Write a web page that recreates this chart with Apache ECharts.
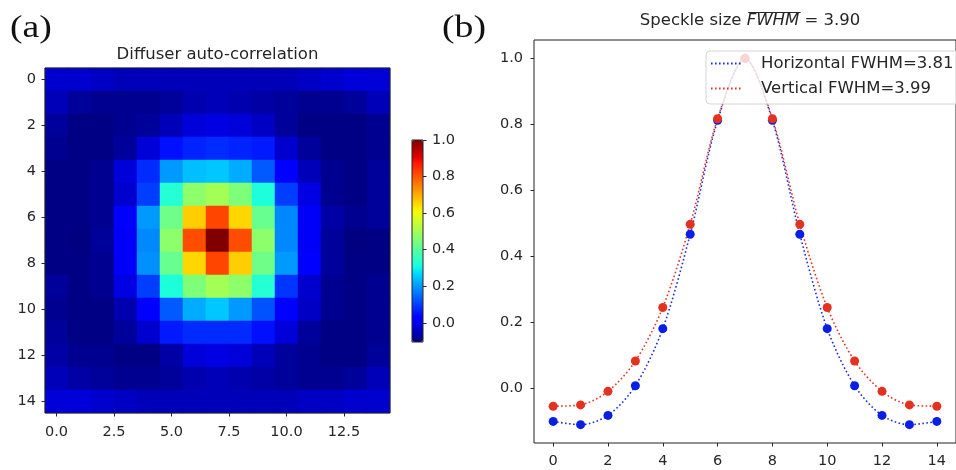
<!DOCTYPE html>
<html>
<head>
<meta charset="utf-8">
<script src="https://cdn.jsdelivr.net/npm/echarts@6/dist/echarts.min.js"></script>
<style>
  html, body { margin: 0; padding: 0; background: #fff; }
  #chart { width: 956px; height: 470px; }
</style>
</head>
<body>
<div id="chart"></div>
<script>
// Pixel offsets (0..14) shared by the correlation map and the two profiles
const pixelIndex = [0, 1, 2, 3, 4, 5, 6, 7, 8, 9, 10, 11, 12, 13, 14];

// Diffuser auto-correlation map, one array per row (row 0 at the top)
const corrRow0  = [-0.03, -0.03, -0.04, -0.05, -0.05, -0.05, -0.05, -0.05, -0.05, -0.05, -0.05, -0.04, -0.03, -0.02, -0.02];
const corrRow1  = [-0.05, -0.08, -0.09, -0.09, -0.09, -0.08, -0.06, -0.05, -0.06, -0.07, -0.08, -0.09, -0.09, -0.08, -0.05];
const corrRow2  = [-0.08, -0.10, -0.10, -0.09, -0.08, -0.05, -0.02, -0.01, -0.02, -0.04, -0.08, -0.10, -0.10, -0.10, -0.09];
const corrRow3  = [-0.09, -0.10, -0.10, -0.08, -0.02, 0.05, 0.07, 0.08, 0.07, 0.06, -0.03, -0.08, -0.10, -0.10, -0.09];
const corrRow4  = [-0.10, -0.10, -0.09, -0.02, 0.08, 0.20, 0.24, 0.25, 0.22, 0.13, 0.02, -0.05, -0.09, -0.10, -0.08];
const corrRow5  = [-0.10, -0.10, -0.09, -0.03, 0.10, 0.33, 0.47, 0.50, 0.45, 0.32, 0.10, -0.01, -0.09, -0.10, -0.08];
const corrRow6  = [-0.10, -0.10, -0.09, 0.02, 0.20, 0.43, 0.66, 0.82, 0.65, 0.42, 0.18, 0.01, -0.07, -0.09, -0.08];
const corrRow7  = [-0.10, -0.11, -0.08, 0.01, 0.18, 0.47, 0.81, 1.00, 0.81, 0.47, 0.18, 0.01, -0.08, -0.11, -0.10];
const corrRow8  = [-0.10, -0.10, -0.09, 0.01, 0.19, 0.42, 0.65, 0.82, 0.66, 0.43, 0.20, 0.02, -0.08, -0.10, -0.10];
const corrRow9  = [-0.08, -0.10, -0.09, -0.01, 0.10, 0.32, 0.45, 0.50, 0.47, 0.33, 0.09, -0.03, -0.09, -0.10, -0.09];
const corrRow10 = [-0.09, -0.10, -0.10, -0.06, 0.02, 0.13, 0.22, 0.25, 0.20, 0.12, 0.03, -0.04, -0.09, -0.10, -0.09];
const corrRow11 = [-0.08, -0.10, -0.10, -0.08, -0.03, 0.06, 0.08, 0.08, 0.08, 0.05, -0.02, -0.08, -0.10, -0.10, -0.09];
const corrRow12 = [-0.07, -0.09, -0.09, -0.10, -0.10, -0.07, -0.02, -0.01, -0.02, -0.05, -0.08, -0.09, -0.10, -0.10, -0.08];
const corrRow13 = [-0.05, -0.07, -0.08, -0.09, -0.09, -0.08, -0.06, -0.05, -0.06, -0.07, -0.08, -0.09, -0.09, -0.08, -0.05];
const corrRow14 = [-0.02, -0.02, -0.03, -0.04, -0.05, -0.05, -0.05, -0.05, -0.05, -0.05, -0.05, -0.04, -0.04, -0.03, -0.03];
const corrRows = [corrRow0, corrRow1, corrRow2, corrRow3, corrRow4, corrRow5, corrRow6, corrRow7,
                  corrRow8, corrRow9, corrRow10, corrRow11, corrRow12, corrRow13, corrRow14];

// Cuts through the centre of the correlation peak
const horizontalProfile = [-0.100, -0.110, -0.082, 0.008, 0.181, 0.467, 0.812, 1.000, 0.812, 0.467, 0.181, 0.008, -0.082, -0.110, -0.100];
const verticalProfile   = [-0.054, -0.050, -0.009, 0.083, 0.245, 0.497, 0.817, 1.000, 0.817, 0.497, 0.245, 0.083, -0.009, -0.050, -0.054];

// Tick positions
const mapXTicks = [0, 2.5, 5, 7.5, 10, 12.5];
const mapYTicks = [0, 2, 4, 6, 8, 10, 12, 14];
const colorbarTicks = [0, 0.2, 0.4, 0.6, 0.8, 1.0];
const profileXTicks = [0, 2, 4, 6, 8, 10, 12, 14];
const profileYTicks = [0, 0.2, 0.4, 0.6, 0.8, 1.0];

const seriesNames = ['Horizontal FWHM=3.81', 'Vertical FWHM=3.99'];
const profileTitle = ['Speckle size ', 'FWHM', ' = 3.90'];

// matplotlib "jet" segment tables, sampled into an evenly spaced colour ramp
const jetSegments = {
  r: [[0, 0], [0.35, 0], [0.66, 1], [0.89, 1], [1, 0.5]],
  g: [[0, 0], [0.125, 0], [0.375, 1], [0.64, 1], [0.91, 0], [1, 0]],
  b: [[0, 0.5], [0.11, 1], [0.34, 1], [0.65, 0], [1, 0]]
};
function segValue(seg, t) {
  for (let i = 1; i < seg.length; i++) {
    if (t <= seg[i][0]) {
      const [t0, v0] = seg[i - 1], [t1, v1] = seg[i];
      return v0 + (v1 - v0) * (t - t0) / (t1 - t0);
    }
  }
  return seg[seg.length - 1][1];
}
const jet = [];
for (let k = 0; k <= 64; k++) {
  const t = k / 64;
  const hex = ['r', 'g', 'b'].map(ch => Math.round(segValue(jetSegments[ch], t) * 255).toString(16).padStart(2, '0')).join('');
  jet.push('#' + hex);
}

const FONT = 'DejaVu Sans';
const INK = '#262626';
const TICK_FONT = 14.5;
const TITLE_FONT = 16.5;

const heatData = [];
corrRows.forEach((row, r) => row.forEach((v, c) => heatData.push([c, r, v])));

// Overline above the italic FWHM in the right-hand title
const measureCtx = document.createElement('canvas').getContext('2d');
function textWidth(str, italic) {
  measureCtx.font = (italic ? 'italic ' : '') + TITLE_FONT + 'px "' + FONT + '"';
  return measureCtx.measureText(str).width;
}
const titleCenter = 750;
const w1 = textWidth(profileTitle[0], false);
const w2 = textWidth(profileTitle[1], true);
const w3 = textWidth(profileTitle[2], false);
const titleStart = titleCenter - (w1 + w2 + w3) / 2;

function valueAxis(extra, ticks, fmt, margin) {
  return Object.assign({
    type: 'value',
    axisLine: { show: false, onZero: false },
    splitLine: { show: false },
    axisTick: { show: true, length: 3.5, inside: false, customValues: ticks, lineStyle: { color: INK, width: 1 } },
    axisLabel: { customValues: ticks, formatter: fmt, color: INK, fontFamily: FONT, fontSize: TICK_FONT, margin: margin },
    z: 6
  }, extra);
}

const option = {
  animation: false,
  backgroundColor: '#ffffff',
  graphic: [
    { type: 'text', x: 10, y: 29, scaleX: 1.18, style: { text: '(a)', font: '32px "Liberation Serif"', fill: '#111', textVerticalAlign: 'middle' } },
    { type: 'text', x: 442, y: 29, scaleX: 1.18, style: { text: '(b)', font: '32px "Liberation Serif"', fill: '#111', textVerticalAlign: 'middle' } },
    { type: 'text', x: 217.5, y: 55, style: { text: 'Diffuser auto-correlation', font: TITLE_FONT + 'px "DejaVu Sans"', fill: INK, textAlign: 'center', textVerticalAlign: 'middle' } },
    { type: 'text', x: titleCenter, y: 21, style: {
        text: '{n|' + profileTitle[0] + '}{it|' + profileTitle[1] + '}{n|' + profileTitle[2] + '}',
        textAlign: 'center', textVerticalAlign: 'middle',
        rich: {
          n: { fontFamily: FONT, fontSize: TITLE_FONT, fill: INK },
          it: { fontFamily: FONT, fontSize: TITLE_FONT, fontStyle: 'italic', fill: INK }
        }
    } },
    { type: 'line', shape: { x1: titleStart + w1 + 1.5, y1: 12.5, x2: titleStart + w1 + w2 + 1.5, y2: 12.5 },
      style: { stroke: INK, lineWidth: 1 } }
  ],
  grid: [
    { left: 45, top: 68, width: 345, height: 345, show: true, borderColor: '#222', borderWidth: 1, backgroundColor: 'transparent', z: 5 },
    { left: 412, top: 140, width: 11, height: 202, show: true, borderColor: '#222', borderWidth: 1, backgroundColor: 'transparent', z: 6 },
    { left: 534, top: 40, width: 432, height: 403, show: true, borderColor: '#222', borderWidth: 1, backgroundColor: 'transparent', z: 1 }
  ],
  xAxis: [
    { type: 'category', gridIndex: 0, data: pixelIndex, show: false, position: 'top' },
    valueAxis({ gridIndex: 0, position: 'bottom', min: -0.5, max: 14.5 }, mapXTicks, v => v.toFixed(1), 12),
    { type: 'value', gridIndex: 1, show: false, min: 0, max: 1 },
    valueAxis({ gridIndex: 2, position: 'bottom', min: -0.7, max: 14.7 }, profileXTicks, v => String(v), 11)
  ],
  yAxis: [
    { type: 'category', gridIndex: 0, data: pixelIndex, inverse: true, show: false, position: 'right' },
    valueAxis({ gridIndex: 0, position: 'left', inverse: true, min: -0.5, max: 14.5 }, mapYTicks, v => String(v), 9),
    valueAxis({ gridIndex: 1, position: 'right', min: -0.105, max: 1.0 }, colorbarTicks, v => v.toFixed(1), 9),
    valueAxis({ gridIndex: 2, position: 'left', min: -0.1655, max: 1.0555 }, profileYTicks, v => v.toFixed(1), 11)
  ],
  visualMap: {
    type: 'continuous',
    seriesIndex: 0,
    min: -0.105,
    max: 1.0,
    inRange: { color: jet },
    calculable: false,
    hoverLink: false,
    left: 412,
    top: 140,
    itemWidth: 11,
    itemHeight: 202,
    padding: 0,
    text: null
  },
  legend: {
    data: seriesNames,
    orient: 'vertical',
    left: 706,
    top: 51,
    padding: [4, 10, 7, 4],
    itemGap: 8,
    itemWidth: 32,
    itemHeight: 14,
    backgroundColor: 'rgba(255,255,255,0.8)',
    borderColor: '#d4d4d4',
    borderWidth: 1,
    borderRadius: 4,
    selectedMode: false,
    itemStyle: { opacity: 0 },
    textStyle: { fontFamily: FONT, fontSize: TITLE_FONT, color: INK, padding: [0, 0, 0, 13] }
  },
  series: [
    {
      type: 'heatmap',
      xAxisIndex: 0,
      yAxisIndex: 0,
      data: heatData,
      itemStyle: { borderWidth: 0 },
      emphasis: { disabled: true }
    },
    {
      type: 'line', name: seriesNames[0], xAxisIndex: 3, yAxisIndex: 3,
      data: pixelIndex.map((x, i) => [x, horizontalProfile[i]]),
      symbol: 'none', smooth: 0.3,
      lineStyle: { color: '#1f2fd6', width: 1.6, type: [1.6, 2.4] },
      itemStyle: { color: '#1f2fd6' },
      z: 2
    },
    {
      type: 'line', name: seriesNames[1], xAxisIndex: 3, yAxisIndex: 3,
      data: pixelIndex.map((x, i) => [x, verticalProfile[i]]),
      symbol: 'none', smooth: 0.3,
      lineStyle: { color: '#e0382c', width: 1.6, type: [1.6, 2.4] },
      itemStyle: { color: '#e0382c' },
      z: 2
    },
    {
      type: 'scatter', name: 'horizontal samples', xAxisIndex: 3, yAxisIndex: 3,
      data: pixelIndex.map((x, i) => [x, horizontalProfile[i]]),
      symbol: 'circle', symbolSize: 9,
      itemStyle: { color: '#0a1fe6', opacity: 1 },
      z: 3
    },
    {
      type: 'scatter', name: 'vertical samples', xAxisIndex: 3, yAxisIndex: 3,
      data: pixelIndex.map((x, i) => [x, verticalProfile[i]]),
      symbol: 'circle', symbolSize: 9,
      itemStyle: { color: '#e5321f', opacity: 1 },
      z: 3
    }
  ]
};

const chart = echarts.init(document.getElementById('chart'), null, { renderer: 'canvas' });
chart.setOption(option);
</script>
</body>
</html>
